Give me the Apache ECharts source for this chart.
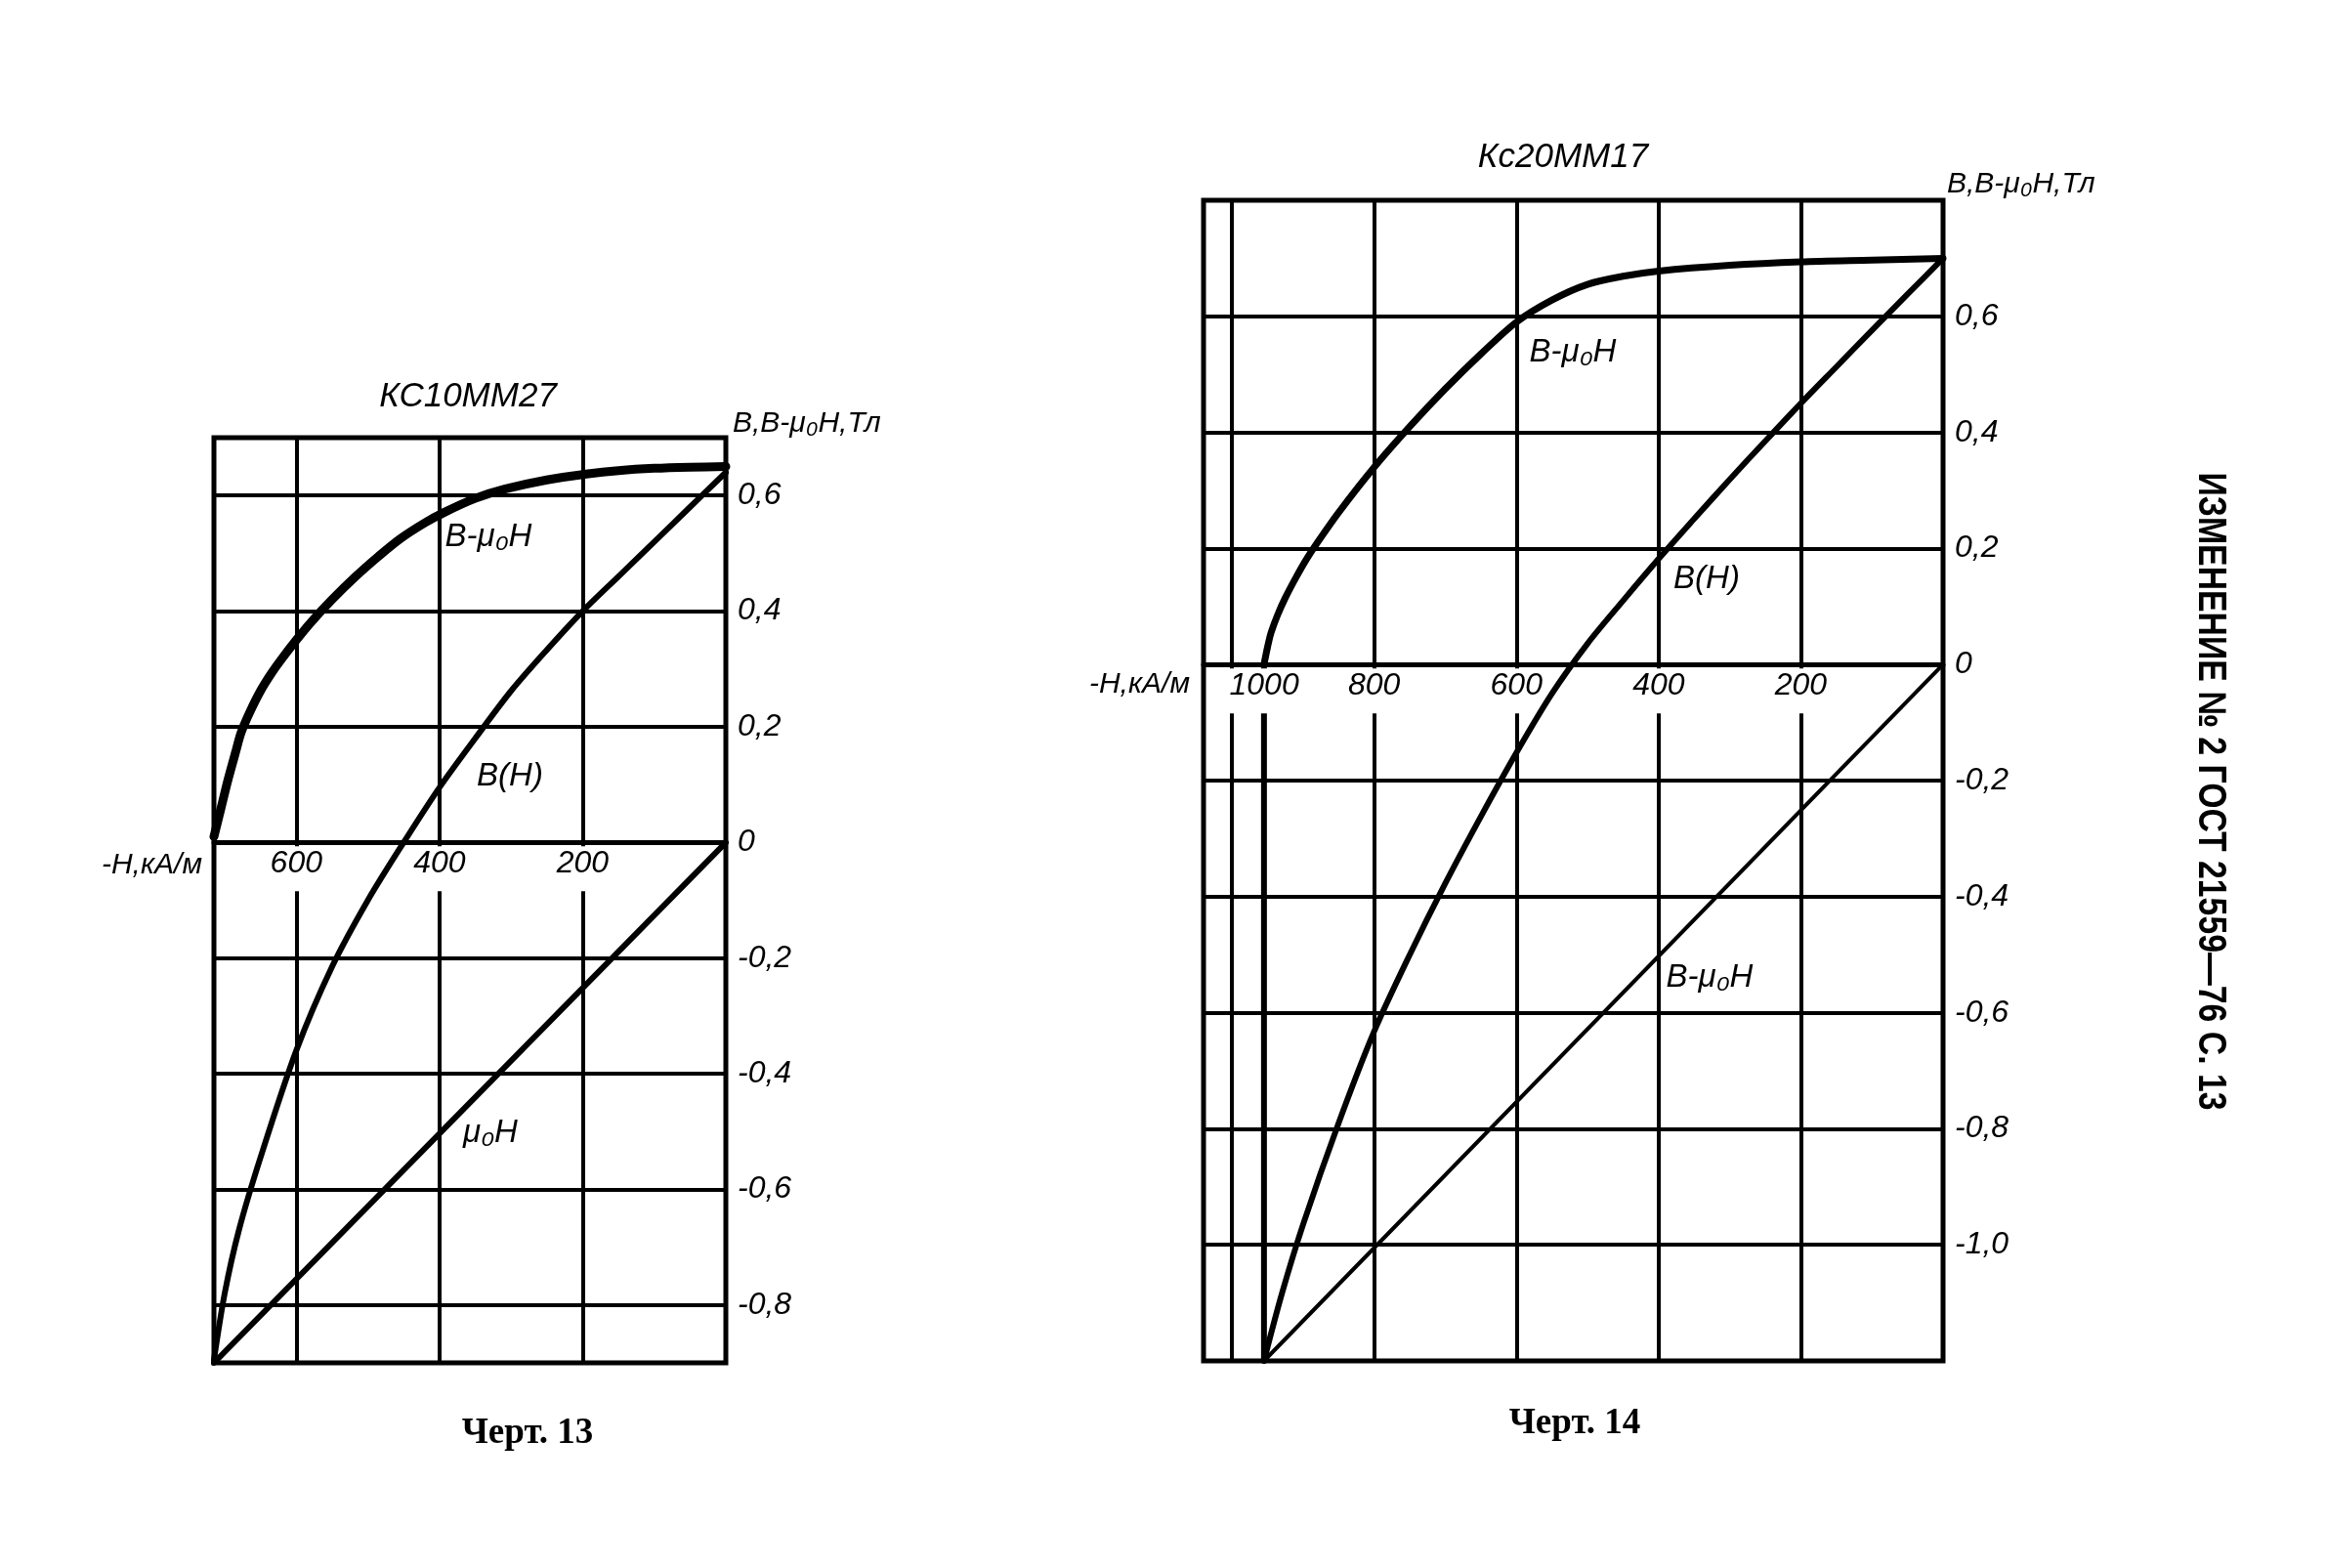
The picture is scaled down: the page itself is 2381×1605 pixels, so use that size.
<!DOCTYPE html>
<html><head><meta charset="utf-8">
<script src="https://cdn.jsdelivr.net/npm/echarts@6/dist/echarts.min.js"></script>
<style>html,body{margin:0;padding:0;background:#fff}#c{width:2381px;height:1605px}</style>
</head><body><div id="c"></div>
<script>
// ---------- DATA ----------
// Черт. 13  (КС10ММ27), x = -H, kA/m ; y = Tl
const ch13_H_intr = [715, 705, 695, 685, 677, 665, 650, 635, 620, 600, 580, 550, 517, 485, 455, 420, 393, 350, 309, 250, 195, 150, 100, 50, 0];
const ch13_B_intr = [0.01, 0.06, 0.11, 0.155, 0.19, 0.225, 0.262, 0.292, 0.318, 0.35, 0.38, 0.42, 0.46, 0.495, 0.525, 0.553, 0.571, 0.595, 0.611, 0.627, 0.637, 0.643, 0.647, 0.649, 0.65];
const ch13_H_BH = [0, 50, 100, 150, 200, 250, 300, 350, 400, 450, 500, 550, 600, 650, 680, 700, 715];
const ch13_B_BH = [0.64, 0.58, 0.52, 0.46, 0.4, 0.333, 0.262, 0.18, 0.095, 0.0, -0.1, -0.215, -0.36, -0.545, -0.67, -0.78, -0.895];
const ch13_H_mu = [0, 715];
const ch13_B_mu = [0, -0.9];

// Черт. 14  (КС20ММ17)
const ch14_H_intr = [955, 950, 945, 936, 925, 910, 895, 880, 850, 800, 750, 700, 650, 600, 550, 500, 450, 400, 300, 200, 100, 0];
const ch14_B_intr = [0, 0.03, 0.055, 0.085, 0.115, 0.15, 0.182, 0.21, 0.262, 0.34, 0.41, 0.475, 0.535, 0.59, 0.628, 0.655, 0.669, 0.678, 0.688, 0.694, 0.697, 0.7];
const ch14_H_drop = [955, 955];
const ch14_B_drop = [0, -1.2];
const ch14_H_BH = [0, 50, 100, 150, 200, 250, 300, 350, 400, 450, 500, 550, 600, 650, 700, 750, 800, 850, 900, 930, 955];
const ch14_B_BH = [0.7, 0.638, 0.576, 0.513, 0.45, 0.385, 0.319, 0.251, 0.182, 0.11, 0.036, -0.05, -0.152, -0.262, -0.377, -0.5, -0.632, -0.79, -0.965, -1.085, -1.2];
const ch14_H_mu = [0, 955];
const ch14_B_mu = [0, -1.2];

// tick labels
const x13Ticks = [600, 400, 200];
const x13Labels = ['600', '400', '200'];
const x14Ticks = [1000, 800, 600, 400, 200];
const x14Labels = ['1000', '800', '600', '400', '200'];
const y13Ticks = [0.6, 0.4, 0.2, 0, -0.2, -0.4, -0.6, -0.8];
const y13Labels = ['0,6', '0,4', '0,2', '0', '-0,2', '-0,4', '-0,6', '-0,8'];
const y14Ticks = [0.6, 0.4, 0.2, 0, -0.2, -0.4, -0.6, -0.8, -1.0];
const y14Labels = ['0,6', '0,4', '0,2', '0', '-0,2', '-0,4', '-0,6', '-0,8', '-1,0'];

const title13 = 'КС10ММ27';
const title14 = 'Кс20ММ17';
const yName = 'B,B-μ₀H,Тл';
const xName = '-H,кА/м';
const cap13 = 'Черт. 13';
const cap14 = 'Черт. 14';
const sideText = 'ИЗМЕНЕНИЕ № 2 ГОСТ 21559—76 С. 13';

// ---------- LAYOUT ----------
const G1 = { left: 219, top: 448, width: 524, height: 947, xMax: 715, yMin: -0.9, yMax: 0.7 };
const G2 = { left: 1232, top: 205, width: 757, height: 1188, xMax: 1040, yMin: -1.2, yMax: 0.8 };

// ---------- CHART ----------
const zip = (a, b) => a.map((x, i) => [x, b[i]]);
const FONT = '"Liberation Sans", "DejaVu Sans", Arial, sans-serif';
const find = (ticks, labels, v) => {
  for (let i = 0; i < ticks.length; i++) if (Math.abs(ticks[i] - v) < 1e-6) return labels[i];
  return '';
};

function xAxisCfg(gridIndex, G, ticks, labels, shiftVal) {
  // axis drawn along the y = 0 line of its grid
  const offset = -G.height * (0 - G.yMin) / (G.yMax - G.yMin);
  return {
    type: 'value', gridIndex, min: 0, max: G.xMax, interval: 200, inverse: true, z: 3,
    position: 'bottom', offset,
    axisLine: { show: true, onZero: false, lineStyle: { color: '#000', width: 5 } },
    axisTick: { show: false },
    splitLine: { show: true, lineStyle: { color: '#000', width: 4 } },
    axisLabel: {
      show: true, showMinLabel: false, showMaxLabel: false, margin: 12,
      formatter: v => {
        const t = find(ticks, labels, v);
        if (!t) return '';
        return (v === shiftVal ? '{sp|}' : '') + '{n|' + t + '}';
      },
      rich: {
        n: { fontFamily: FONT, fontStyle: 'italic', fontSize: 32, lineHeight: 30, color: '#000',
             backgroundColor: '#fff', padding: [2, 2, 12, 2] },
        sp: { width: 66, height: 30 }
      }
    }
  };
}
function yAxisCfg(gridIndex, G, ticks, labels) {
  return {
    type: 'value', gridIndex, position: 'right', min: G.yMin, max: G.yMax,
    splitNumber: Math.round((G.yMax - G.yMin) / 0.2),
    axisLine: { show: false, onZero: false }, axisTick: { show: false },
    splitLine: { show: true, lineStyle: { color: '#000', width: 4 } },
    axisLabel: {
      show: true, showMinLabel: false, showMaxLabel: false, margin: 12,
      fontFamily: FONT, fontStyle: 'italic', fontSize: 32, color: '#000',
      formatter: v => find(ticks, labels, v)
    }
  };
}
function line(xi, data, width, smooth, z) {
  return {
    type: 'line', xAxisIndex: xi, yAxisIndex: xi, data, symbol: 'none', showSymbol: false,
    smooth: smooth, silent: true, z: z,
    lineStyle: { color: '#000', width, cap: 'round', join: 'round' }
  };
}

const mc = document.createElement('canvas').getContext('2d');
mc.font = 'bold 40px "Liberation Sans"';
const sideW = mc.measureText(sideText).width || 800;

function txt(x, y, text, size, align) {
  return {
    type: 'text', x, y, silent: true, z: 10,
    style: { text, font: 'italic ' + size + 'px ' + FONT, fill: '#000', align: align || 'center', verticalAlign: 'middle' }
  };
}

const option = {
  backgroundColor: '#fff',
  animation: false,
  grid: [
    { left: G1.left, top: G1.top, width: G1.width, height: G1.height, show: true, borderColor: '#000', borderWidth: 5, backgroundColor: 'transparent' },
    { left: G2.left, top: G2.top, width: G2.width, height: G2.height, show: true, borderColor: '#000', borderWidth: 5, backgroundColor: 'transparent' }
  ],
  xAxis: [
    xAxisCfg(0, G1, x13Ticks, x13Labels, null),
    xAxisCfg(1, G2, x14Ticks, x14Labels, 1000)
  ],
  yAxis: [
    yAxisCfg(0, G1, y13Ticks, y13Labels),
    yAxisCfg(1, G2, y14Ticks, y14Labels)
  ],
  series: [
    line(0, zip(ch13_H_intr, ch13_B_intr), 9, 0.3, 5),
    line(0, zip(ch13_H_BH, ch13_B_BH), 6, 0.3, 5),
    line(0, zip(ch13_H_mu, ch13_B_mu), 6, false, 5),
    line(1, zip(ch14_H_intr, ch14_B_intr), 7, 0.3, 5),
    line(1, zip(ch14_H_drop, ch14_B_drop), 6, false, 2),
    line(1, zip(ch14_H_BH, ch14_B_BH), 6, 0.3, 5),
    line(1, zip(ch14_H_mu, ch14_B_mu), 4, false, 5)
  ],
  graphic: [
    txt(479, 406, title13, 35),
    txt(750, 434, yName, 30, 'left'),
    txt(207, 886, xName, 30, 'right'),
    txt(500, 550, 'B-μ₀H', 33),
    txt(522, 795, 'B(H)', 33),
    txt(502, 1160, 'μ₀H', 33),
    txt(1600, 161, title14, 35),
    txt(1993, 189, yName, 30, 'left'),
    txt(1218, 701, xName, 30, 'right'),
    txt(1610, 361, 'B-μ₀H', 33),
    txt(1747, 593, 'B(H)', 33),
    txt(1750, 1001, 'B-μ₀H', 33),
    { type: 'text', x: 540, y: 1467, silent: true,
      style: { text: cap13, font: 'bold 37px "Liberation Serif", "DejaVu Serif", serif', fill: '#000', align: 'center', verticalAlign: 'middle' } },
    { type: 'text', x: 1612, y: 1457, silent: true,
      style: { text: cap14, font: 'bold 37px "Liberation Serif", "DejaVu Serif", serif', fill: '#000', align: 'center', verticalAlign: 'middle' } },
    { type: 'text', x: 2262, y: 810, rotation: -Math.PI / 2, scaleX: 653 / sideW, silent: true,
      style: { text: sideText, font: 'bold 40px "Liberation Sans", "DejaVu Sans", sans-serif', fill: '#000', align: 'center', verticalAlign: 'middle' } }
  ]
};

const chart = echarts.init(document.getElementById('c'), null, { renderer: 'canvas' });
chart.setOption(option);
</script>
</body></html>
